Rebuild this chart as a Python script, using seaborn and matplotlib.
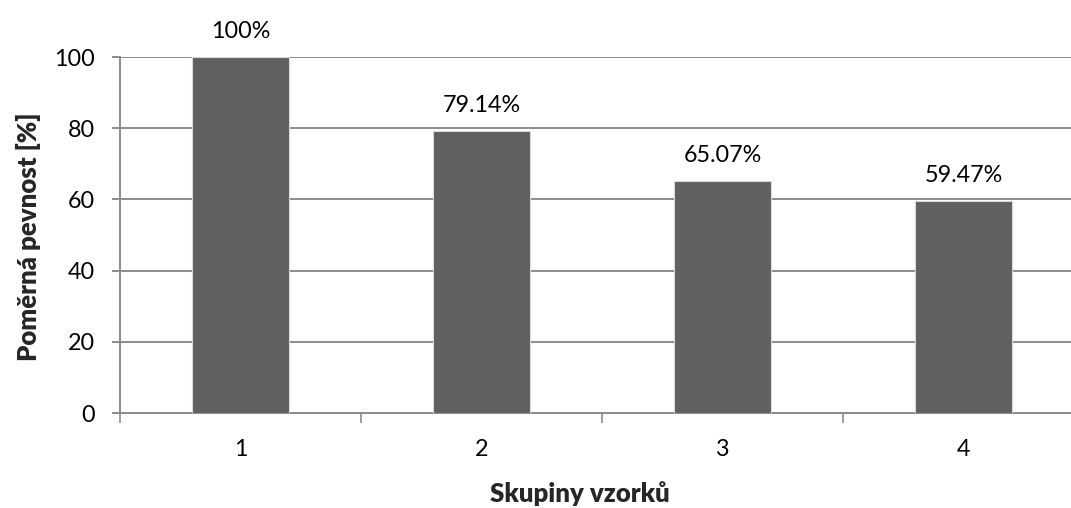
import matplotlib
matplotlib.use("Agg")
import matplotlib.pyplot as plt
import seaborn as sns
import pandas as pd
from matplotlib.ticker import FixedLocator

categories = ["1", "2", "3", "4"]
values = [100, 79.14, 65.07, 59.47]
value_labels = ["100%", "79.14%", "65.07%", "59.47%"]
y_ticks = [0, 20, 40, 60, 80, 100]

sns.set_theme(style="white")
plt.rcParams["font.family"] = ["Lato", "DejaVu Sans"]

df = pd.DataFrame({"skupina": categories, "pevnost": values})

fig = plt.figure(figsize=(10.71, 5.08), dpi=100)
ax = fig.add_axes([120 / 1071, 95 / 508, 964 / 1071, 356 / 508])

grid_c = "#8c8c8c"
sns.barplot(data=df, x="skupina", y="pevnost", color="#606060", saturation=1,
            width=0.4, edgecolor="#d9d9d9", linewidth=0.8, ax=ax, zorder=3)

ax.set_ylim(0, 100)
ax.set_xlim(-0.5, 3.5)
ax.set_yticks(y_ticks)
ax.yaxis.grid(True, color=grid_c, linewidth=1.4, zorder=0)
ax.set_axisbelow(True)

for s in ["top", "right"]:
    ax.spines[s].set_visible(False)
for s in ["left", "bottom"]:
    ax.spines[s].set_color(grid_c)
    ax.spines[s].set_linewidth(1.4)

tick_fs = 16.8
ax.tick_params(axis="y", which="major", left=True, length=6, width=1.4,
               color=grid_c, labelsize=tick_fs, pad=12, labelcolor="black")
# x-axis: labels at category centres, tick marks at category boundaries
ax.tick_params(axis="x", which="major", bottom=False, labelsize=tick_fs, pad=13,
               labelcolor="black")
ax.xaxis.set_minor_locator(FixedLocator([-0.5, 0.5, 1.5, 2.5, 3.5]))
ax.tick_params(axis="x", which="minor", bottom=True, length=7, width=1.2,
               color=grid_c)

for i, (v, lab) in enumerate(zip(values, value_labels)):
    ax.annotate(lab, (i, v), xytext=(0, 14), textcoords="offset points",
                ha="center", va="baseline", fontsize=tick_fs, color="black",
                annotation_clip=False)

ax.set_xlabel("Skupiny vzorků", fontsize=18.5, fontweight="heavy")
ax.set_ylabel("Poměrná pevnost [%]", fontsize=18.5, fontweight="heavy")
ax.xaxis.set_label_coords(0.477, -0.225)
ax.xaxis.label.set_va("center")
ax.yaxis.set_label_coords(-0.0954, 0.496)
ax.yaxis.label.set_va("center")

fig.savefig("out.png", dpi=100)
